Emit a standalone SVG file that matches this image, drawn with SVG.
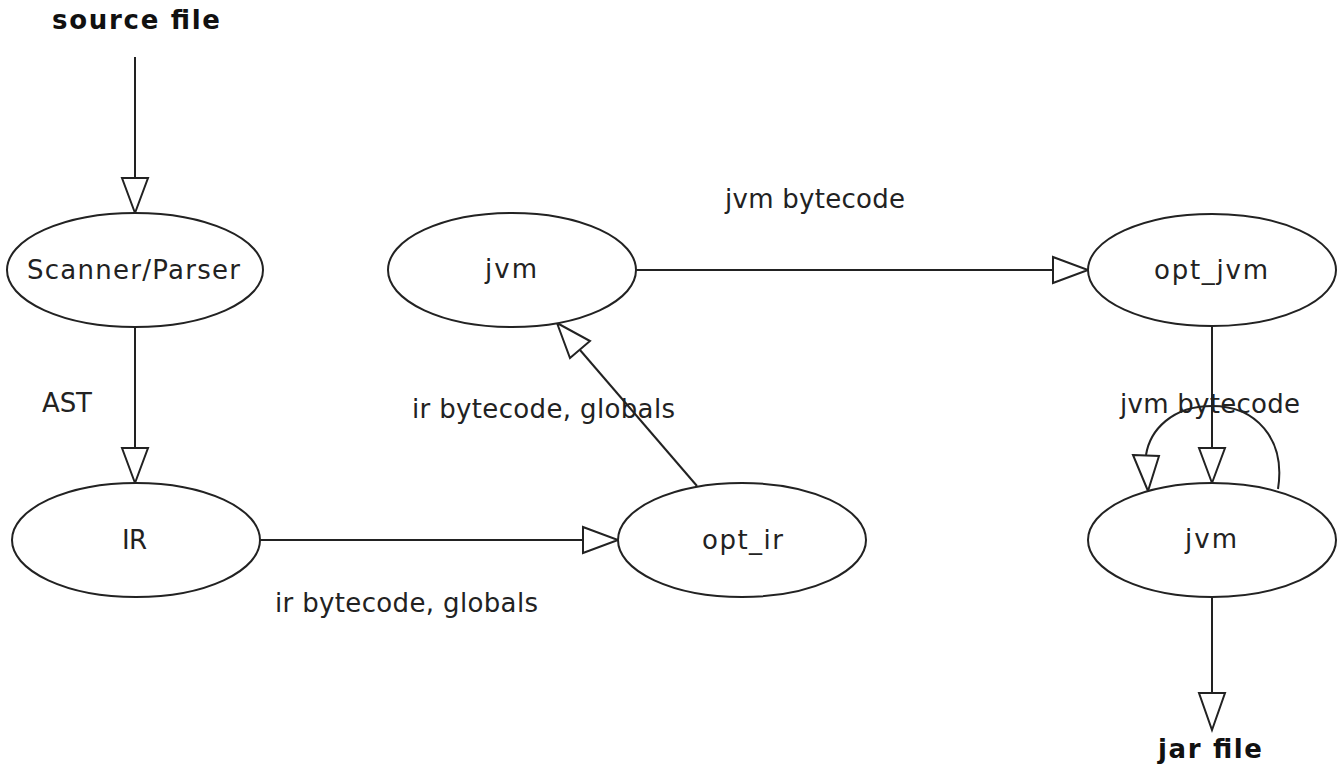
<svg xmlns="http://www.w3.org/2000/svg" width="1340" height="775" viewBox="0 0 1340 775">
<style>
.node ellipse{fill:#fff;stroke:#222;stroke-width:2}
.lbl{font-family:"DejaVu Sans",sans-serif;font-size:26px;fill:#222}
.bold{font-family:"DejaVu Sans",sans-serif;font-size:26px;font-weight:bold;fill:#111}
.edge{fill:none;stroke:#222;stroke-width:2}
.head{fill:#fff;stroke:#222;stroke-width:2;stroke-linejoin:miter}
</style>
<rect width="1340" height="775" fill="#fff"/>
<g id="connectors">
  <line class="edge" x1="135" y1="57" x2="135" y2="178"/>
  <polygon class="head" points="122,178 148,178 135,213"/>
  <line class="edge" x1="135" y1="327" x2="135" y2="448"/>
  <polygon class="head" points="122,448 148,448 135,483"/>
  <line class="edge" x1="260" y1="540" x2="583" y2="540"/>
  <polygon class="head" points="583,527 583,553 618,540"/>
  <line class="edge" x1="697" y1="486" x2="580" y2="350"/>
  <polygon class="head" points="570,358 590,341 557,323"/>
  <line class="edge" x1="636" y1="270" x2="1053" y2="270"/>
  <polygon class="head" points="1053,257 1053,283 1088,270"/>
  <line class="edge" x1="1212" y1="326" x2="1212" y2="448"/>
  <polygon class="head" points="1199,448 1225,448 1212,483"/>
  <path class="edge" d="M1278,489 C1286,438 1255,406 1212,406 C1172,406 1150,430 1146,455"/>
  <polygon class="head" points="1133,455 1159,456 1148,491"/>
  <line class="edge" x1="1212" y1="597" x2="1212" y2="693"/>
  <polygon class="head" points="1199,693 1225,693 1212,730"/>
  <text class="lbl" x="42" y="412" textLength="50">AST</text>
  <text class="lbl" x="275" y="612" textLength="263">ir bytecode, globals</text>
  <text class="lbl" x="412" y="418" textLength="263">ir bytecode, globals</text>
  <text class="lbl" x="725" y="208" textLength="180">jvm bytecode</text>
  <text class="lbl" x="1120" y="413" textLength="180">jvm bytecode</text>
</g>
<g id="source_file"><text class="bold" x="52" y="29" textLength="168">source file</text></g>
<g id="jar_file"><text class="bold" x="1158" y="758" textLength="104">jar file</text></g>
<g id="scanner_parser" class="node"><ellipse cx="135" cy="270" rx="128" ry="57"/><text class="lbl" x="27" y="279" textLength="213">Scanner/Parser</text></g>
<g id="ir" class="node"><ellipse cx="136" cy="540" rx="124" ry="57"/><text class="lbl" x="122" y="549" textLength="25">IR</text></g>
<g id="opt_ir" class="node"><ellipse cx="742" cy="540" rx="124" ry="57"/><text class="lbl" x="702" y="549" textLength="81">opt_ir</text></g>
<g id="jvm1" class="node"><ellipse cx="512" cy="270" rx="124" ry="57"/><text class="lbl" x="485" y="278" textLength="52">jvm</text></g>
<g id="opt_jvm" class="node"><ellipse cx="1212" cy="270" rx="124" ry="56"/><text class="lbl" x="1154" y="279" textLength="114">opt_jvm</text></g>
<g id="jvm2" class="node"><ellipse cx="1212" cy="540" rx="124" ry="57"/><text class="lbl" x="1185" y="548" textLength="52">jvm</text></g>
</svg>
